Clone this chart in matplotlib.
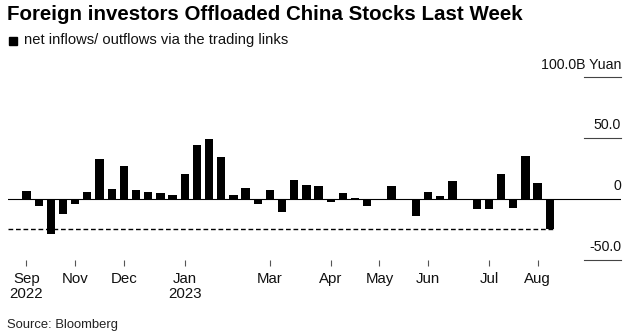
import matplotlib
matplotlib.use('Agg')
import matplotlib.pyplot as plt
from matplotlib.patches import Rectangle

plt.rcParams['font.family'] = ['Liberation Sans', 'DejaVu Sans']

# weekly net flows via the trading links, billion yuan
flows = [6.1, -5.8, -29.2, -12.7, -4.4, 5.5, 32.8, 7.7, 27.0, 6.9,
         5.8, 4.4, 3.3, 20.4, 44.6, 49.3, 34.7, 3.3, 8.8, -3.9,
         7.2, -10.5, 15.2, 11.3, 10.7, -2.8, 5.0, 0.5, -6.3, 0.0,
         10.2, -1.4, -13.8, 5.2, 1.9, 14.9, 0.0, -8.3, -8.8, 20.1,
         -7.2, 35.0, 12.7, -25.0]
month_pos = [0, 4, 8, 13, 20, 25, 29, 33, 38, 42]
month_labels = ['Sep\n2022', 'Nov', 'Dec', 'Jan\n2023', 'Mar', 'Apr',
                'May', 'Jun', 'Jul', 'Aug']
y_ticks = [100, 50, 0, -50]
y_labels = ['100.0B Yuan', '50.0', '0', '-50.0']

fig = plt.figure(figsize=(6.27, 3.34), dpi=100)
ax = fig.add_axes([8/627, 74.5/334, 613/627, 182.2/334])

x = list(range(len(flows)))
ax.bar(x, flows, width=0.68, color='black', zorder=3)
ax.axhline(0, color='black', lw=0.8, zorder=2)

# dashed line at the latest week's level
ax.plot([-1.52, len(flows) - 0.7], [flows[-1], flows[-1]], color='black',
        lw=1.0, dashes=(3.4, 2.0), zorder=2)

ax.set_xlim(-1.52, 48.85)
ax.set_ylim(-50, 100)

for s in ax.spines.values():
    s.set_visible(False)

ax.set_yticks([])
ax.set_xticks(month_pos)
ax.set_xticklabels(month_labels, fontsize=10.8, color='#111111', linespacing=1.1)
ax.tick_params(axis='x', length=4, width=0.8, color='#555555', pad=5)

ytr = ax.get_yaxis_transform()
for v, lab in zip(y_ticks, y_labels):
    if v != 0:
        ax.plot([0.94, 1.0], [v, v], color='#444444', lw=0.8, transform=ytr,
                clip_on=False)
    ax.annotate(lab, xy=(1.0, v), xycoords=ytr, xytext=(0, 4),
                textcoords='offset points', ha='right', va='bottom',
                fontsize=10.2, color='#111111')

fig.text(7/627, 1 - 14/334, 'Foreign investors Offloaded China Stocks Last Week',
         fontsize=14.8, fontweight='bold', va='center', ha='left')
fig.patches.append(Rectangle((9/627, 1 - 45/334), 8/627, 8/334,
                             transform=fig.transFigure, color='black'))
fig.text(24/627, 1 - 40/334, 'net inflows/ outflows via the trading links',
         fontsize=10.6, va='center', ha='left', color='#111111')
fig.text(7/627, 1 - 325/334, 'Source: Bloomberg', fontsize=9.4,
         va='center', ha='left', color='#222222')

fig.savefig('out.png', dpi=100)
